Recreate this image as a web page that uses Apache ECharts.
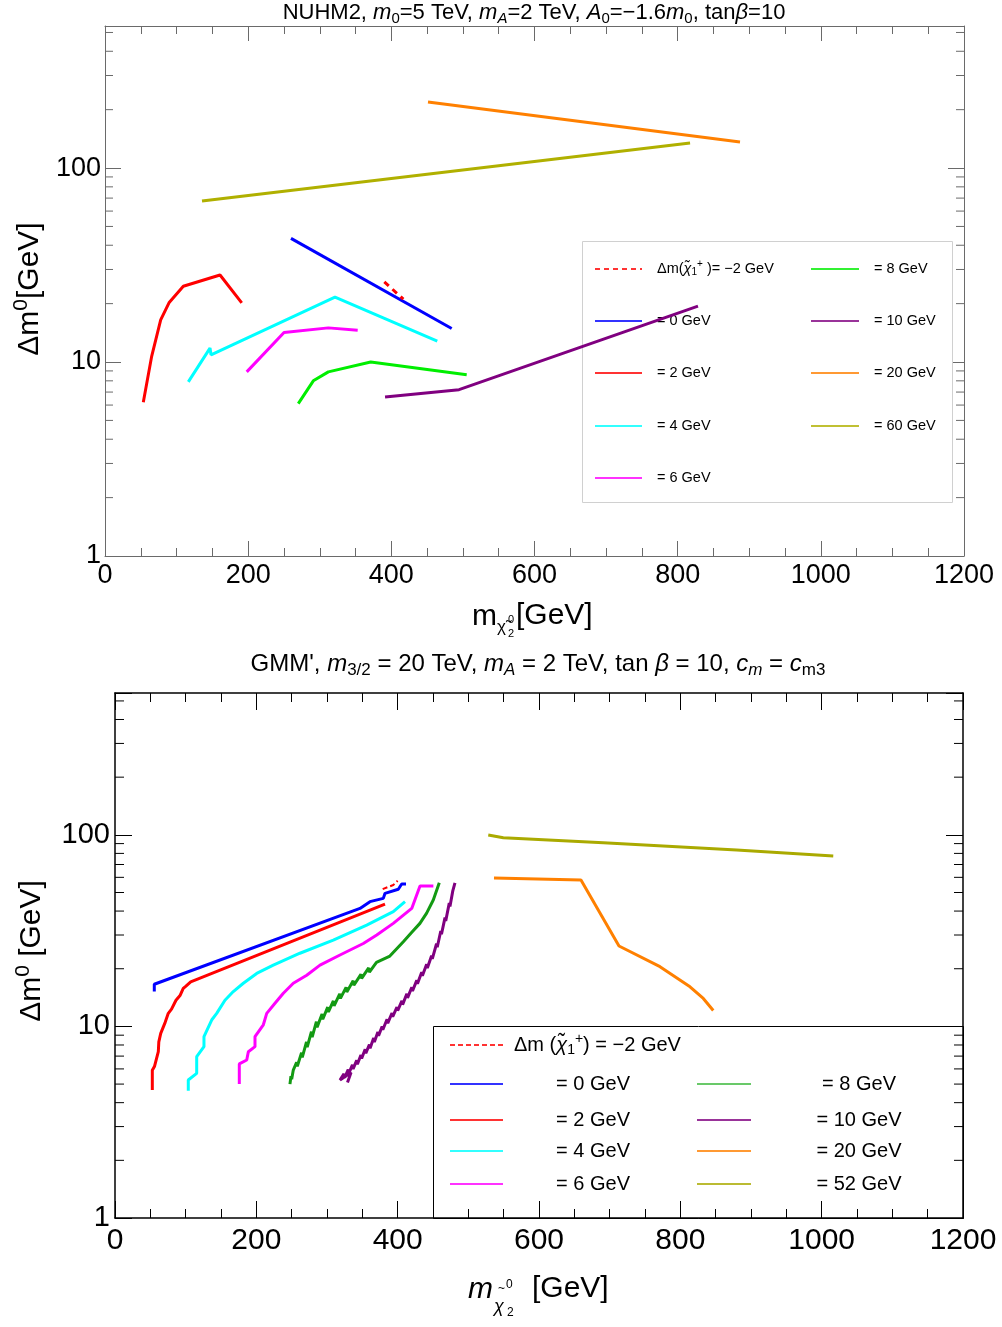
<!DOCTYPE html>
<html><head><meta charset="utf-8">
<script src="https://cdn.jsdelivr.net/npm/echarts@6/dist/echarts.min.js"></script>
<style>html,body{margin:0;padding:0;background:#fff}#c{width:1002px;height:1327px}</style>
</head><body><div id="c"></div>
<script>
// ---------- axis ticks ----------
const xMin = 0, xMax = 1200, xStep = 200;
const yTickLabels = [1, 10, 100];
const yMinorTicks = [2,3,4,5,6,7,8,9,20,30,40,50,60,70,80,90,200,300,400,500];
const topYMax = 540, botYMax = 550;

// ---------- top panel (NUHM2) ----------
const topMinus2 = [[390.2,25.9],[416.8,21.1]];
const top0  = [[259.8,43.4],[484.3,14.9]];
const top2  = [[53.5,6.2],[65.2,10.7],[77.8,16.5],[89.4,20.2],[109.4,24.6],[160.7,28.1],[191.0,20.2]];
const top4  = [[116.4,7.9],[146.7,11.8],[148.1,10.9],[321.3,21.6],[464.2,12.8]];
const top6  = [[198.0,8.9],[250.1,14.2],[312.0,15.0],[353.0,14.6]];
const top8  = [[270.0,6.1],[291.0,8.0],[312.0,8.9],[371.2,10.0],[505.3,8.6]];
const top10 = [[391.2,6.6],[494.6,7.2],[828.4,19.4]];
const top20 = [[451.2,218.9],[887.1,136.2]];
const top60 = [[135.5,67.6],[817.3,134.6]];

// ---------- bottom panel (GMM') ----------
const botMinus2 = [[378.8,52.1],[393.8,54.7],[400.0,57.6]];
const bot0  = [[55.6,15.2],[55.6,16.6],[346.7,41.3],[360.8,44.8],[379.7,46.6],[382.1,49.5],[400.9,52.0],[405.7,55.4],[411.8,55.4]];
const bot2  = [[52.8,4.66],[52.8,5.9],[56,6.2],[61.3,7.38],[62,8.3],[64.7,9.2],[71,10.5],[75.4,11.7],[80,12.3],[86.3,13.7],[92,14.5],[96.6,15.8],[100,16.2],[107.1,17.1],[382.1,43.5]];
const bot4  = [[103.7,4.62],[103.7,5.25],[115.6,5.69],[115.6,6.95],[125.9,7.84],[125.9,8.84],[136.8,10.8],[143.9,11.7],[155.6,13.7],[167.4,15.2],[181.6,16.8],[200.5,18.9],[224.0,20.9],[261.7,24.1],[308.9,28.2],[356.2,33.8],[393.8,39.7],[410.4,44.8]];
const bot6  = [[175.9,5.0],[175.9,6.37],[186.4,6.68],[188.7,7.38],[198.1,7.84],[198.1,8.84],[209.9,10.2],[214.7,11.7],[226.4,13.2],[238.2,14.9],[252.3,16.8],[271.3,18.5],[290.1,20.9],[318.4,23.6],[351.4,27.1],[370.4,30.0],[393.8,34.5],[419.9,41.3],[431.6,54.1],[450.5,54.1]];
const bot8  = [[247.6,5.0],[249,5.5],[250,5.3],[252.3,5.92],[257,6.5],[258,6.2],[264,7.3],[265,6.9],[271,8.3],[272,7.8],[278,9.4],[279,8.8],[285,10.6],[286,9.9],[293,11.6],[294,10.9],[301,12.6],[302,11.9],[309,13.6],[310,12.8],[318,14.8],[319,14.0],[327,16.0],[328,15.1],[337,17.3],[338,16.4],[348,18.7],[349,17.8],[359,20.2],[360,19.2],[370,21.6],[389,23.3],[408,27.7],[420,31],[431.5,34.5],[441,39],[450.4,45.7],[458.9,56.2]];
const bot10 = [[329,5.1],[334,5.75],[318.4,5.25],[324,5.65],[325,5.4],[330,5.95],[331,5.7],[336,6.3],[337,6.0],[342,6.65],[343,6.35],[348,7.1],[349,6.8],[354,7.6],[355,7.25],[360,8.05],[361,7.7],[366,8.7],[367,8.3],[372,9.35],[373,8.95],[378,10.0],[379,9.6],[385,10.9],[386,10.4],[392,11.75],[393,11.25],[399,12.6],[400,12.1],[406,13.6],[407,13.0],[413,14.8],[414,14.1],[420,16.0],[421,15.3],[427,17.4],[428,16.7],[434,19.2],[435,18.4],[441,21.1],[442,20.2],[448,23.4],[449,22.5],[455,27.0],[456,25.9],[461,31.5],[462,30.3],[467,37.0],[468,35.5],[473,44.0],[474,42.3],[478,51.0],[481.1,56.2]];
const bot20 = [[536.3,59.5],[659.4,58.1],[713.2,26.3],[771.2,20.5],[813.7,16.1],[832.5,14.0],[846.6,12.1]];
const bot52 = [[528.2,99.8],[549.5,96.6],[691.0,90.9],[879.7,83.3],[1016.4,77.5]];

// ---------- legend labels ----------
const topLegendLeft  = ['= 0 GeV', '= 2 GeV', '= 4 GeV', '= 6 GeV'];
const topLegendRight = ['= 8 GeV', '= 10 GeV', '= 20 GeV', '= 60 GeV'];
const botLegendLeft  = ['= 0 GeV', '= 2 GeV', '= 4 GeV', '= 6 GeV'];
const botLegendRight = ['= 8 GeV', '= 10 GeV', '= 20 GeV', '= 52 GeV'];

const FF = '"Liberation Sans", Arial, Helvetica, sans-serif';
const C = {red:'#ff0000', blue:'#0000ff', cyan:'#00ffff', mag:'#ff00ff', green:'#00ee00', purple:'#800080', orange:'#ff8000', olive:'#b0b000'};
const C2 = {green:'#139a13', olive:'#aaaa00'};

const chart = echarts.init(document.getElementById('c'));

function xAx(grid, pos, color, labelSize, margin, tl, ml, lw) {
  return {type:'value', gridIndex:grid, position:pos, min:xMin, max:xMax, interval:xStep,
    axisLine:{show:true, onZero:false, lineStyle:{color:color, width:lw}},
    axisTick:{show:true, inside:true, length:tl, lineStyle:{color:color}},
    minorTick:{show:true, splitNumber:4, length:ml, lineStyle:{color:color}},
    splitLine:{show:false},
    axisLabel:{show:pos==='bottom', fontSize:labelSize, margin:margin, color:'#000', fontFamily:FF,
      formatter: v => String(v)}};
}
function yAx(grid, pos, max, color, labelSize, margin, tl, lw) {
  return {type:'log', logBase:10, gridIndex:grid, position:pos, min:1, max:max,
    axisLine:{show:true, onZero:false, lineStyle:{color:color, width:lw}},
    axisTick:{show:true, inside:true, length:tl, lineStyle:{color:color}},
    splitLine:{show:false},
    axisLabel:{show:pos==='left', fontSize:labelSize, margin:margin, color:'#000', fontFamily:FF,
      formatter: v => yTickLabels.indexOf(Math.round(v)) >= 0 && Math.abs(v-Math.round(v))<1e-6 ? String(Math.round(v)) : ''}};
}
function ln(data, color, xi, yi, dash, w) {
  return {type:'line', xAxisIndex:xi, yAxisIndex:yi, data:data, symbol:'none', silent:true,
    lineStyle:{color:color, width:w||3, type:dash||'solid'}, z:3};
}
function minorY(xi, yi, color, len) {
  return {type:'custom', xAxisIndex:xi, yAxisIndex:yi, silent:true, z:2,
    data: yMinorTicks.map(v => [xMin, v]),
    renderItem: (p, api) => {
      const v = api.value(1);
      const a = api.coord([xMin, v]), b = api.coord([xMax, v]);
      return {type:'group', children:[
        {type:'line', shape:{x1:a[0], y1:a[1], x2:a[0]+len, y2:a[1]}, style:{stroke:color, lineWidth:1}},
        {type:'line', shape:{x1:b[0]-len, y1:b[1], x2:b[0], y2:b[1]}, style:{stroke:color, lineWidth:1}}
      ]};
    }};
}

function rich(size) {
  const f = FF;
  return {
    n:{fontSize:size, fontFamily:f, fill:'#000'},
    i:{fontSize:size, fontFamily:f, fontStyle:'italic', fill:'#000'},
    s:{fontSize:Math.round(size*0.7), fontFamily:f, fill:'#000', padding:[Math.round(size*0.5),0,0,0]},
    si:{fontSize:Math.round(size*0.7), fontFamily:f, fontStyle:'italic', fill:'#000', padding:[Math.round(size*0.5),0,0,0]},
    p:{fontSize:Math.round(size*0.7), fontFamily:f, fill:'#000', padding:[0,0,Math.round(size*0.6),0]}
  };
}
function txt(x, y, text, size, align, z, rot) {
  return {type:'text', x:x, y:y, rotation:rot||0, z:z||10,
    style:{text:text, rich:rich(size), fontSize:size, fontFamily:FF, fill:'#000', align:align||'left', verticalAlign:'middle'}};
}
function lline(x1, x2, y, color, dash, z) {
  return {type:'line', z:z, shape:{x1:x1, y1:y, x2:x2, y2:y}, style:{stroke:color, lineWidth:2, lineDash:dash||null, opacity:0.8}};
}

const graphics = [];
// titles
graphics.push(txt(534, 13, '{n|NUHM2, }{i|m}{s|0}{n|=5 TeV, }{i|m}{si|A}{n|=2 TeV, }{i|A}{s|0}{n|=−1.6}{i|m}{s|0}{n|, tan}{i|β}{n|=10}', 22, 'center'));
graphics.push(txt(538, 664, '{n|GMM\', }{i|m}{s|3/2}{n| = 20 TeV, }{i|m}{si|A}{n| = 2 TeV, tan }{i|β}{n| = 10, }{i|c}{si|m}{n| = }{i|c}{s|m3}', 24, 'center'));
// axis names top
graphics.push(txt(472, 617, '{n|m}', 30));
graphics.push(txt(497, 627, '{n|χ̃}', 17));
graphics.push(txt(508, 620, '{n|0}', 11));
graphics.push(txt(508, 634, '{n|2}', 11));
graphics.push(txt(516, 616, '{n|[GeV]}', 30));
graphics.push(txt(30, 289, '{n|Δm}{p|0}{n|[GeV]}', 30, 'center', 10, Math.PI/2));
// axis names bottom
graphics.push(txt(468, 1290, '{i|m}', 30));
graphics.push(txt(498, 1289, '{n|~}', 12));
graphics.push(txt(506, 1285, '{n|0}', 12));
graphics.push(txt(494, 1307, '{i|χ}', 18));
graphics.push(txt(507, 1313, '{n|2}', 12));
graphics.push(txt(532, 1289, '{n|[GeV]}', 30));
graphics.push(txt(32, 951, '{n|Δm}{p|0}{n| [GeV]}', 30, 'center', 10, Math.PI/2));

// top legend (under the series)
graphics.push({type:'rect', z:1, shape:{x:582.5, y:241.5, width:370, height:261}, style:{fill:'#fff', stroke:'#d0d0d0', lineWidth:1}});
const tRows = [269, 321, 373, 426, 478];
graphics.push(lline(595, 642, tRows[0], C.red, [5,4], 1));
graphics.push(txt(657, tRows[0], '{n|Δm(}{i|χ̃}{s|1}{p|+}{n| )= −2 GeV}', 14.5, 'left', 1));
const tLeftCols = [C.blue, C.red, C.cyan, C.mag];
const tRightCols = [C.green, C.purple, C.orange, C.olive];
topLegendLeft.forEach((t, k) => { graphics.push(lline(595, 642, tRows[k+1], tLeftCols[k], null, 1)); graphics.push(txt(657, tRows[k+1], '{n|'+t+'}', 14.5, 'left', 1)); });
topLegendRight.forEach((t, k) => { graphics.push(lline(811, 859, tRows[k], tRightCols[k], null, 1)); graphics.push(txt(874, tRows[k], '{n|'+t+'}', 14.5, 'left', 1)); });

// bottom legend (under the axes)
graphics.push({type:'rect', z:-1, shape:{x:433.5, y:1026.5, width:530, height:192}, style:{fill:'#fff', stroke:'#000', lineWidth:1}});
const bRows = [1045, 1084, 1120, 1151, 1184];
graphics.push(lline(450, 503, bRows[0], C.red, [5,3], 5));
graphics.push(txt(514, bRows[0], '{n|Δm (}{i|χ̃}{s|1}{p|+}{n|) = −2 GeV}', 20, 'left', 5));
const bLeftCols = [C.blue, C.red, C.cyan, C.mag];
const bRightCols = ['#44bb44', C.purple, C.orange, C2.olive];
botLegendLeft.forEach((t, k) => { graphics.push(lline(450, 503, bRows[k+1], bLeftCols[k], null, 5)); graphics.push(txt(593, bRows[k+1], '{n|'+t+'}', 20, 'center', 5)); });
botLegendRight.forEach((t, k) => { graphics.push(lline(697, 751, bRows[k+1], bRightCols[k], null, 5)); graphics.push(txt(859, bRows[k+1], '{n|'+t+'}', 20, 'center', 5)); });

const tc = '#6a6a6a', bc = '#000';
chart.setOption({
  animation:false,
  backgroundColor:'#fff',
  grid:[
    {left:105, top:26, width:859, height:530},
    {left:115, top:693, width:848, height:525}
  ],
  xAxis:[
    xAx(0,'bottom',tc,27,6,15,8,1), xAx(0,'top',tc,27,6,15,8,1),
    xAx(1,'bottom',bc,30,8,17,9,1.5), xAx(1,'top',bc,30,8,17,9,1.5)
  ],
  yAxis:[
    yAx(0,'left',topYMax,tc,27,4,16,1), yAx(0,'right',topYMax,tc,27,4,16,1),
    yAx(1,'left',botYMax,bc,29,5,17,1.5), yAx(1,'right',botYMax,bc,29,5,17,1.5)
  ],
  graphic:{elements:graphics},
  series:[
    minorY(0,0,tc,8), minorY(2,2,bc,9),
    ln(top60,C.olive,0,0), ln(top20,C.orange,0,0), ln(top0,C.blue,0,0), ln(topMinus2,C.red,0,0,[6,5]),
    ln(top2,C.red,0,0), ln(top4,C.cyan,0,0), ln(top6,C.mag,0,0), ln(top8,C.green,0,0), ln(top10,C.purple,0,0),
    ln(bot52,C2.olive,2,2), ln(bot20,C.orange,2,2), ln(bot0,C.blue,2,2), ln(botMinus2,C.red,2,2,[5,3],2),
    ln(bot2,C.red,2,2), ln(bot4,C.cyan,2,2), ln(bot6,C.mag,2,2), ln(bot8,C2.green,2,2), ln(bot10,C.purple,2,2)
  ]
});
</script>
</body></html>
